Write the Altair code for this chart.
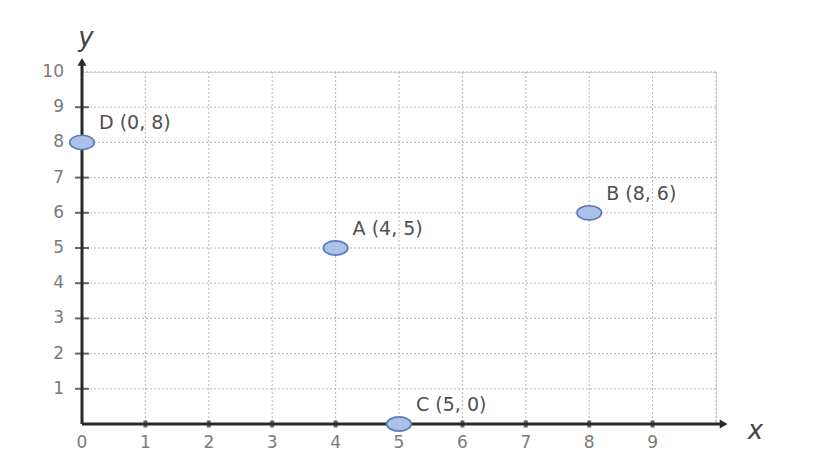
import altair as alt
import pandas as pd

# data
names = ["A", "B", "C", "D"]
xs = [4, 8, 5, 0]
ys = [5, 6, 0, 8]
x_ticks = [0, 1, 2, 3, 4, 5, 6, 7, 8, 9]
y_ticks = [1, 2, 3, 4, 5, 6, 7, 8, 9, 10]
grid_vals = [1, 2, 3, 4, 5, 6, 7, 8, 9, 10]
x_max = 10.1
y_max = 10.25

pts = pd.DataFrame({"name": names, "x": xs, "y": ys})
pts["label"] = [f"{n} ({a}, {b})" for n, a, b in zip(names, xs, ys)]

W, H = 634, 352
xs_scale = alt.Scale(domain=[0, 10], nice=False)
ys_scale = alt.Scale(domain=[0, 10], nice=False)
FONT = "DejaVu Sans"
LABEL_COLOR = "#7a7a7a"
AXIS_COLOR = "#2a2a2a"

base_x = alt.X("x:Q", scale=xs_scale, axis=None)
base_y = alt.Y("y:Q", scale=ys_scale, axis=None)

# grid lines
gv = pd.DataFrame({"v": grid_vals})
vgrid = alt.Chart(gv).mark_rule(color="#b5b5b5", strokeDash=[2, 2], strokeWidth=1).encode(
    x=alt.X("v:Q", scale=xs_scale, axis=None),
    y=alt.value(0), y2=alt.value(H))
hgrid = alt.Chart(gv).mark_rule(color="#b5b5b5", strokeDash=[2, 2], strokeWidth=1).encode(
    y=alt.Y("v:Q", scale=ys_scale, axis=None),
    x=alt.value(0), x2=alt.value(W))

# axes lines
axdf = pd.DataFrame({"x0": [0, 0], "y0": [0, 0], "x1": [x_max, 0], "y1": [0, y_max]})
axes = alt.Chart(axdf).mark_rule(color=AXIS_COLOR, strokeWidth=3).encode(
    x=alt.X("x0:Q", scale=xs_scale, axis=None), x2="x1:Q",
    y=alt.Y("y0:Q", scale=ys_scale, axis=None), y2="y1:Q")

arrdf = pd.DataFrame({"x": [x_max, 0], "y": [0, y_max], "ang": [90, 0]})
arrows = alt.Chart(arrdf).mark_point(shape="triangle", filled=True, color=AXIS_COLOR, size=80, opacity=1).encode(
    x=base_x, y=base_y, angle=alt.Angle("ang:Q", scale=None))

# ticks
ytk = pd.DataFrame({"y": y_ticks[:-1], "x": [0] * (len(y_ticks) - 1)})
yticks = alt.Chart(ytk).mark_tick(orient="horizontal", size=14, thickness=2, color=AXIS_COLOR).encode(
    x=base_x, y=base_y)
xtk = pd.DataFrame({"x": x_ticks[1:], "y": [0] * (len(x_ticks) - 1)})
xticks = alt.Chart(xtk).mark_tick(orient="vertical", size=7, thickness=4, color=AXIS_COLOR).encode(
    x=base_x, y=base_y)

# tick labels
xl = pd.DataFrame({"x": x_ticks, "y": [0] * len(x_ticks), "t": [str(v) for v in x_ticks]})
xlabels = alt.Chart(xl).mark_text(font=FONT, fontSize=17, color=LABEL_COLOR, dy=19).encode(
    x=base_x, y=base_y, text="t:N")
yl = pd.DataFrame({"y": y_ticks, "x": [0] * len(y_ticks), "t": [str(v) for v in y_ticks]})
ylabels = alt.Chart(yl).mark_text(font=FONT, fontSize=17, color=LABEL_COLOR, align="right", dx=-18).encode(
    x=base_x, y=base_y, text="t:N")

# axis titles
ttl = pd.DataFrame({"x": [x_max, 0], "y": [0, y_max], "t": ["x", "y"]})
xtitle = alt.Chart(ttl.iloc[[0]]).mark_text(font=FONT, fontSize=26, fontStyle="italic", color="#444444",
                                            align="center", dx=33, dy=7).encode(x=base_x, y=base_y, text="t:N")
ytitle = alt.Chart(ttl.iloc[[1]]).mark_text(font=FONT, fontSize=26, fontStyle="italic", color="#444444",
                                            align="center", dx=4, dy=-25).encode(x=base_x, y=base_y, text="t:N")

# points
ellipse = "M -1 0 A 1 0.58 0 1 0 1 0 A 1 0.58 0 1 0 -1 0 Z"
points = alt.Chart(pts).mark_point(shape=ellipse, filled=True, fill="#a9c1eb", stroke="#5d79ae",
                                   strokeWidth=1.6, size=600, opacity=1).encode(x=base_x, y=base_y)
labels = alt.Chart(pts).mark_text(font=FONT, fontSize=19, color="#505050", align="left", dx=17, dy=-19).encode(
    x=base_x, y=base_y, text="label:N")

chart = alt.layer(vgrid, hgrid, axes, arrows, yticks, xticks, xlabels, ylabels, xtitle, ytitle, points, labels).properties(
    width=W, height=H,
    autosize=alt.AutoSizeParams(type="none"),
    padding={"left": 74, "top": 64, "right": 109, "bottom": 36},
).configure_view(stroke=None).configure(background="white")

chart.save("out.html", embed_options={"renderer": "svg", "actions": False})
